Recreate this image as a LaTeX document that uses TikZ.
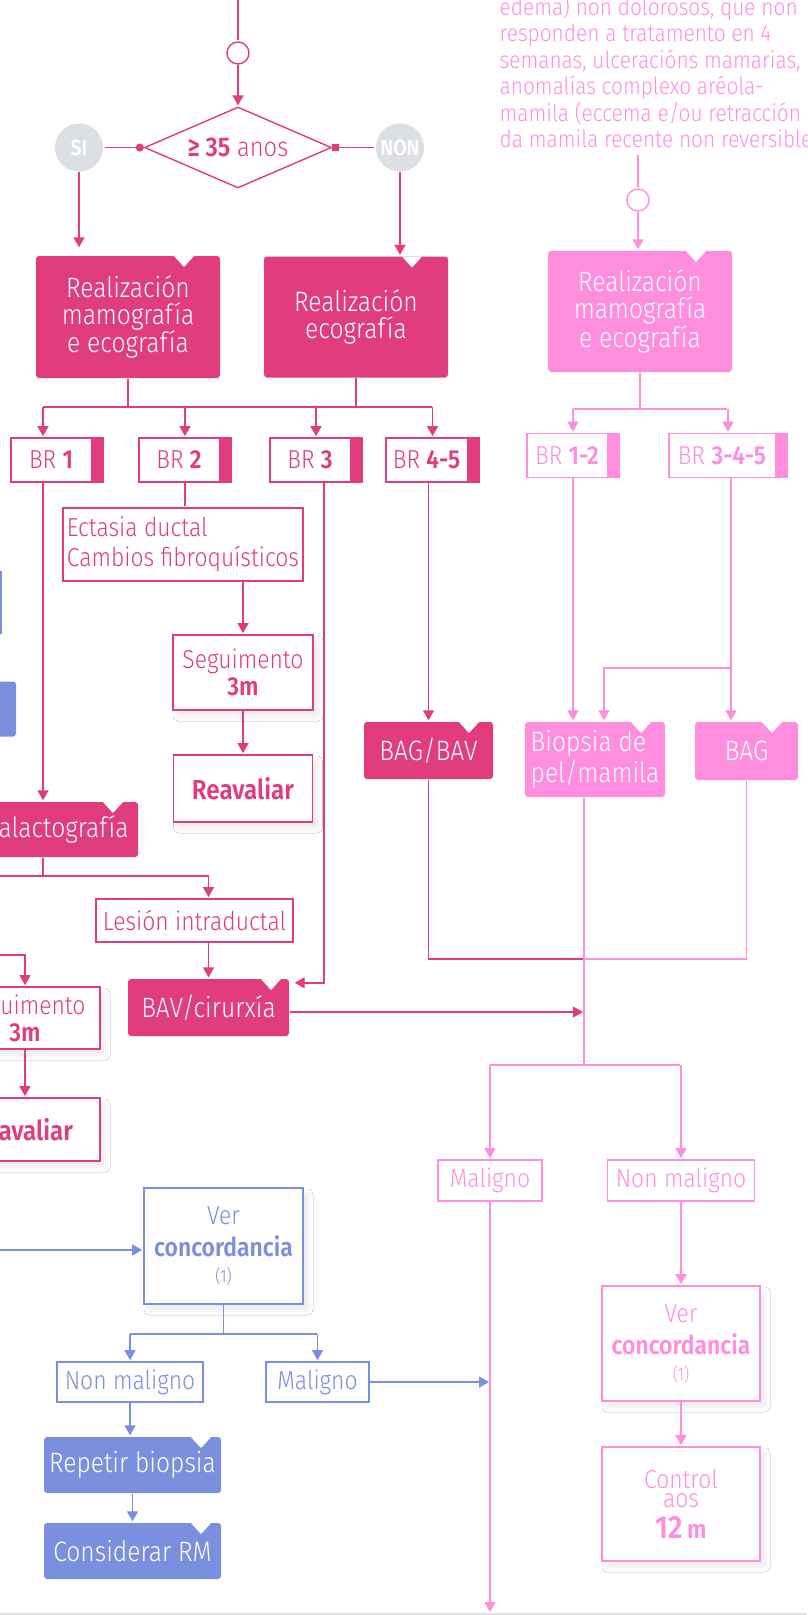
\documentclass[tikz,border=0pt]{standalone}
\usepackage{fontspec}
\setmainfont{Fira Sans}[UprightFont=* Light, BoldFont=* SemiBold, FakeStretch=0.88]
\usetikzlibrary{arrows.meta,positioning,shapes.geometric,shadows.blur}

\definecolor{rosa}{HTML}{E13C7D}
\definecolor{rosaclaro}{HTML}{FF8EDE}
\definecolor{azul}{HTML}{7A8FDD}
\definecolor{gris}{HTML}{DCDFE3}

\newcommand{\fsbig}{\fontsize{28}{26.7}\selectfont}
\newcommand{\fslab}{\fontsize{26}{30}\selectfont}
\newcommand{\fspar}{\fontsize{23.7}{26.4}\selectfont}
\newcommand{\fssmall}{\fontsize{18}{20}\selectfont}

\begin{document}
\begin{tikzpicture}[x=1pt, y=-1pt, on grid, shorten >=1pt, line width=1.4pt,
        >={Triangle[width=11pt,length=10pt]},
        hv/.style={to path={-| (\tikztotarget)}},
        vh/.style={to path={|- (\tikztotarget)}},
        tabbox/.style={fill=#1, text=white, rounded corners=3pt, font=\fsbig, align=center, inner sep=0pt},
        notched/.style={path picture={\fill[white, sharp corners] ([xshift=-#1pt, yshift=1pt]path picture bounding box.north east) -- ++(-22pt,0pt) -- ++(11pt,-12pt) -- cycle;}},
        labelbox/.style={draw=#1, text=#1, fill=white, line width=1.7pt, font=\fslab, align=center, inner sep=0pt},
        brbox/.style={labelbox=#1, minimum height=44pt, path picture={\fill[#1] ([xshift=-12pt]path picture bounding box.north east) rectangle (path picture bounding box.south east);}},
        sombra/.style={blur shadow={shadow xshift=5pt, shadow yshift=-6pt, shadow blur radius=5pt, shadow blur steps=10, shadow opacity=8}},
        hoop/.style={circle, draw=#1, fill=white, minimum size=22pt, inner sep=0pt},
        answer/.style={circle, fill=gris, text=white, minimum size=48pt, inner sep=0pt, font=\bfseries\fontsize{22}{22}\selectfont}]

    \useasboundingbox (0,0) rectangle (807,1615);
    \fill[white] (0,0) rectangle (807,1615);
    \clip (0,0) rectangle (807,1615);

    % idade
    \node[hoop=rosa] (hoop_top) at (238,53) {};
    \node[diamond, aspect=2.5, draw=rosa, fill=white, text=rosa, minimum width=187pt, minimum height=81pt, inner sep=0pt, font=\fontsize{27}{27}\selectfont, below=94.5pt of hoop_top] (age) {\textbf{≥ 35} anos};
    \node[answer, left=159pt of age]  (si)  {SI};
    \node[answer, right=162pt of age] (non) {NON};
    \node[tabbox=rosa, notched=25, minimum width=184pt, minimum height=122pt] (mamo) at (128,317) {Realización\\mamografía\\e ecografía};
    \node[tabbox=rosa, notched=25, minimum width=184pt, minimum height=121pt, right=228pt of mamo] (eco) {Realización\\ecografía};

    % columna dereita
    \node[text=rosaclaro, font=\fspar, align=left, inner sep=0pt, anchor=base west] (criterios) at (499,147.4)
        {edema) non dolorosos, que non\\responden a tratamento en 4\\semanas, ulceracións mamarias,\\anomalías complexo aréola-\\mamila (eccema e/ou retracción\\da mamila recente non reversible};
    \node[hoop=rosaclaro] (hoop_r) at (638,200) {};
    \node[tabbox=rosaclaro, notched=25, minimum width=184pt, minimum height=121pt] (mamo_r) at (640,311.5) {Realización\\mamografía\\e ecografía};

    % BI-RADS
    \node[brbox=rosa, minimum width=92pt] (br_1) at (57,460) {BR \textbf{1}\hspace*{12pt}};
    \node[brbox=rosa, minimum width=92pt, right=128pt of br_1] (br_2) {BR \textbf{2}\hspace*{12pt}};
    \node[brbox=rosa, minimum width=92pt, right=131pt of br_2] (br_3) {BR \textbf{3}\hspace*{12pt}};
    \node[brbox=rosa, minimum width=93pt, right=116.5pt of br_3] (br_45) {BR \textbf{4-5}\hspace*{12pt}};
    \node[brbox=rosaclaro, minimum width=92pt] (br_12) at (573,455.5) {BR \textbf{1-2}\hspace*{12pt}};
    \node[brbox=rosaclaro, minimum width=118pt, right=155pt of br_12] (br_345) {BR \textbf{3-4-5}\hspace*{12pt}};

    % BR 2
    \node[labelbox=rosa, minimum width=240pt, minimum height=73pt, align=left] (ectasia) at (183,544.5) {Ectasia ductal\\Cambios fibroquísticos};
    \node[labelbox=rosa, sombra, minimum width=140pt, minimum height=75pt, below right=128pt and 60pt of ectasia] (seg) {Seguimento\\[-3pt]\textbf{3m}};
    \node[labelbox=rosa, sombra, minimum width=139pt, minimum height=67pt, below=116pt of seg] (reav) {\fontsize{27.5}{30}\selectfont\textbf{Reavaliar}};

    % BR 1
    \node[tabbox=rosa, notched=14, minimum width=164pt, minimum height=55pt] (galacto) at (56,829.5) {Galactografía};
    \node[labelbox=rosa, minimum width=197pt, minimum height=43pt] (lesion) at (194.5,920.5) {Lesión intraductal};
    \node[tabbox=rosa, notched=7, minimum width=161pt, minimum height=57pt] (bav_cir) at (208.5,1007.5) {BAV/cirurxía};
    \node[labelbox=rosa, sombra, minimum width=150pt, minimum height=62pt] (seg_l) at (25,1018) {Seguimento\\[-3pt]\textbf{3m}};
    \node[labelbox=rosa, sombra, minimum width=150pt, minimum height=63pt, below=111.5pt of seg_l] (reav_l) {\fontsize{27.5}{30}\selectfont\textbf{Reavaliar}\hspace*{6pt}};

    % fora do marco
    \node[labelbox=azul, minimum width=122pt, minimum height=61pt] (azul_a) at (-60,602.5) {};
    \node[tabbox=azul, minimum width=132pt, minimum height=55pt] (azul_b) at (-50,709) {};

    % biopsias
    \node[tabbox=rosa, notched=13, minimum width=129pt, minimum height=57pt] (bag_bav) at (428.5,750.5) {BAG/BAV};
    \node[tabbox=rosaclaro, notched=13, minimum width=140pt, minimum height=75pt, align=left] (biopsia) at (595,759.5) {Biopsia de\\[2pt]pel/mamila};
    \node[tabbox=rosaclaro, notched=15, minimum width=103pt, minimum height=58pt] (bag) at (746.5,751) {BAG};

    % resultado
    \node[labelbox=rosaclaro, minimum width=104pt, minimum height=41pt] (maligno_r) at (490,1180.5) {Maligno};
    \node[labelbox=rosaclaro, minimum width=147pt, minimum height=41pt, right=191pt of maligno_r] (nonmal_r) {Non maligno};
    \node[labelbox=rosaclaro, sombra, minimum width=158pt, minimum height=115pt] (ver_r) at (681,1343.5) {Ver\\[2pt]\textbf{concordancia}\\[-4pt]{\fssmall(1)}};
    \node[labelbox=rosaclaro, sombra, minimum width=158pt, minimum height=114pt, below=160.5pt of ver_r] (control) {Control\\[-11pt]aos\\[1pt]{\fontsize{32}{32}\selectfont\textbf{12}}\,\textbf{m}};

    \node[labelbox=azul, sombra, minimum width=159pt, minimum height=116pt] (ver_l) at (223.5,1246) {Ver\\[2pt]\textbf{concordancia}\\[-4pt]{\fssmall(1)}};
    \node[labelbox=azul, minimum width=146pt, minimum height=40pt] (nonmal_l) at (130,1382) {Non maligno};
    \node[labelbox=azul, minimum width=103pt, minimum height=40pt, right=187.5pt of nonmal_l] (maligno_l) {Maligno};
    \node[tabbox=azul, notched=9, minimum width=177pt, minimum height=56pt] (repetir) at (132.5,1465) {Repetir biopsia};
    \node[tabbox=azul, notched=9, minimum width=177pt, minimum height=56pt, below=86pt of repetir] (rm) {Considerar RM};

    % puntos de unión
    \coordinate (top_in)    at (238,-5);
    \coordinate (y_split)   at (0,407);
    \coordinate (x_br1)     at (43,0);
    \coordinate (y_gal)     at (0,876);
    \coordinate (gal_off)   at (-5,876);
    \coordinate (seg_off)   at (-5,955);
    \coordinate (crit_end)  at (638,155);
    \coordinate (y_split_r) at (0,409);
    \coordinate (y_branch)  at (0,668);
    \coordinate (x_junc)    at (584,0);
    \coordinate (y_join)    at (0,959);
    \coordinate (y_res)     at (0,1065);
    \coordinate (y_fondo)   at (0,1613);
    \coordinate (ver_off)   at (-5,1250);
    \coordinate (y_split_l) at (0,1334);

    \draw[rosa]
        (top_in) edge (hoop_top)
        (hoop_top) edge[->] (age)
        (age.west) edge[{Circle[length=8pt]}-] (si)
        (age.east) edge[{Square[length=7pt]}-] (non)
        (si) edge[->, shorten >=8pt] (si |- mamo.north)
        (non) edge[->] (non |- eco.north)
        (mamo) edge (mamo |- y_split)
        (eco) edge (eco |- y_split)
        (y_split -| x_br1) edge (y_split -| br_45)
        (y_split -| x_br1) edge[->] (x_br1 |- br_1.north)
        (y_split -| br_2) edge[->] (br_2)
        (y_split -| br_3) edge[->] (br_3)
        (y_split -| br_45) edge[->] (br_45)
        (x_br1 |- br_1.south) edge[->] (x_br1 |- galacto.north)
        (br_2) edge (br_2 |- ectasia.north)
        (seg |- ectasia.south) edge[->] (seg)
        (seg) edge[->] (reav)
        (x_br1 |- galacto.south) edge (x_br1 |- y_gal)
        (gal_off) edge[hv, ->] (bav_cir |- lesion.north)
        (bav_cir |- lesion.south) edge[->] (bav_cir)
        ([xshift=8pt]br_3.south) edge[vh, ->] ([shift={(4pt,-4.5pt)}]bav_cir.north east)
        (seg_off) edge[hv, ->] (seg_l)
        (seg_l) edge[->] (reav_l)
        (br_45.south -| bag_bav) edge[->] (bag_bav)
        (bag_bav) edge[vh] (x_junc |- y_join)
        ([yshift=-4.5pt]bav_cir.east) edge[->] ([yshift=-4.5pt]bav_cir.east -| x_junc)
        ;

    \draw[rosaclaro]
        (crit_end) edge (hoop_r)
        (hoop_r) edge[->] (hoop_r |- mamo_r.north)
        (mamo_r) edge (mamo_r |- y_split_r)
        (y_split_r -| br_12) edge (y_split_r -| br_345)
        (y_split_r -| br_12) edge[->] (br_12)
        (y_split_r -| br_345) edge[->] (br_345)
        (br_12) edge[->] (br_12 |- biopsia.north)
        ([xshift=3pt]br_345.south) edge[->] ([xshift=3pt]br_345.south |- bag.north)
        ([xshift=3pt]br_345.south |- y_branch) edge[hv, ->] ([xshift=9pt]biopsia.north)
        (bag) edge[vh] (x_junc |- y_join)
        (x_junc |- biopsia.south) edge (x_junc |- y_res)
        (y_res -| maligno_r) edge (y_res -| nonmal_r)
        (y_res -| maligno_r) edge[->] (maligno_r)
        (y_res -| nonmal_r) edge[->] (nonmal_r)
        (nonmal_r) edge[->] (ver_r)
        (ver_r) edge[->] (control)
        (maligno_r) edge[->] (maligno_r |- y_fondo)
        ;

    \draw[azul]
        (ver_off) edge[->] (ver_off -| ver_l.west)
        (ver_l) edge (ver_l |- y_split_l)
        (y_split_l -| nonmal_l) edge (y_split_l -| maligno_l)
        (y_split_l -| nonmal_l) edge[->] (nonmal_l)
        (y_split_l -| maligno_l) edge[->] (maligno_l)
        (maligno_l) edge[->] (maligno_l -| maligno_r)
        (nonmal_l) edge[->] (nonmal_l |- repetir.north)
        (repetir) edge[->] (rm)
        ;

    \draw[gris, line width=1.5pt] (0,1614) -- (807,1614);
\end{tikzpicture}
\end{document}
